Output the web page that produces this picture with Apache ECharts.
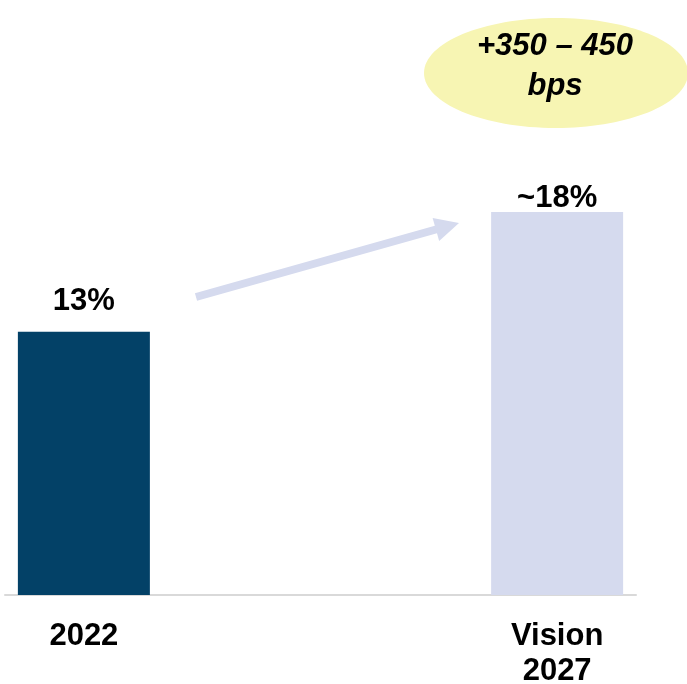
<!DOCTYPE html>
<html>
<head>
<meta charset="utf-8">
<script src="https://cdn.jsdelivr.net/npm/echarts@6/dist/echarts.min.js"></script>
<style>
  html, body { margin: 0; padding: 0; background: #fff; }
  #chart { width: 687px; height: 684px; }
</style>
</head>
<body>
<div id="chart"></div>
<script>
  // categories and values
  var categories = ['2022', 'Vision\n2027'];
  var values = [13, 18];
  var valueLabels = ['13%', '~18%'];
  var barColors = ['#034167', '#d5daee'];
  var calloutText = '+350 – 450\nbps';

  var font = 'Arial, "Liberation Sans", sans-serif';
  var chart = echarts.init(document.getElementById('chart'));

  // arrow between the bars, built as one polygon
  function arrowPoints(tail, tip, shaftHalf, headLen, headHalf) {
    var dx = tip[0] - tail[0], dy = tip[1] - tail[1];
    var len = Math.sqrt(dx * dx + dy * dy);
    var ux = dx / len, uy = dy / len;
    var nx = -uy, ny = ux;
    var bx = tip[0] - ux * headLen, by = tip[1] - uy * headLen;
    return [
      [tail[0] + nx * shaftHalf, tail[1] + ny * shaftHalf],
      [bx + nx * shaftHalf, by + ny * shaftHalf],
      [bx + nx * headHalf, by + ny * headHalf],
      tip,
      [bx - nx * headHalf, by - ny * headHalf],
      [bx - nx * shaftHalf, by - ny * shaftHalf],
      [tail[0] - nx * shaftHalf, tail[1] - ny * shaftHalf]
    ];
  }

  var option = {
    animation: false,
    backgroundColor: '#fff',
    grid: { left: 5, right: 51, top: 212, bottom: 89, outerBoundsMode: 'none' },
    xAxis: {
      type: 'value',
      min: -1 / 6,
      max: 7 / 6,
      interval: 1 / 6,
      splitLine: { show: false },
      axisTick: { show: false },
      axisLine: { show: true, lineStyle: { color: '#d9d9d9', width: 2 } },
      axisLabel: {
        margin: 24,
        color: '#000',
        fontFamily: font,
        fontWeight: 'bold',
        fontSize: 31,
        lineHeight: 35,
        showMinLabel: true,
        showMaxLabel: true,
        formatter: function (v) {
          for (var i = 0; i < categories.length; i++) {
            if (Math.abs(v - i) < 1e-6) return categories[i];
          }
          return '';
        }
      }
    },
    yAxis: {
      type: 'value',
      min: 2,
      max: 18,
      show: false
    },
    series: [{
      type: 'bar',
      barWidth: 132,
      data: values.map(function (v, i) {
        return {
          value: [i, v],
          itemStyle: { color: barColors[i] },
          label: i === 0 ? { distance: 15 } : { distance: 0, offset: [0, 2] }
        };
      }),
      label: {
        show: true,
        position: 'top',
        color: '#000',
        fontFamily: font,
        fontWeight: 'bold',
        fontSize: 31,
        lineHeight: 31,
        formatter: function (p) { return valueLabels[p.dataIndex]; }
      }
    }],
    graphic: [
      {
        type: 'polygon',
        shape: { points: arrowPoints([196, 297], [459, 223], 4, 24, 12) },
        style: { fill: '#d5daee' },
        silent: true
      },
      {
        type: 'ellipse',
        shape: { cx: 556, cy: 73, rx: 132, ry: 55 },
        style: { fill: '#f7f5b3' },
        silent: true
      },
      {
        type: 'text',
        x: 555,
        y: 66,
        style: {
          text: calloutText,
          fill: '#000',
          font: 'italic bold 31px ' + font,
          lineHeight: 40,
          align: 'center',
          verticalAlign: 'middle'
        },
        silent: true
      }
    ]
  };

  chart.setOption(option);
</script>
</body>
</html>
